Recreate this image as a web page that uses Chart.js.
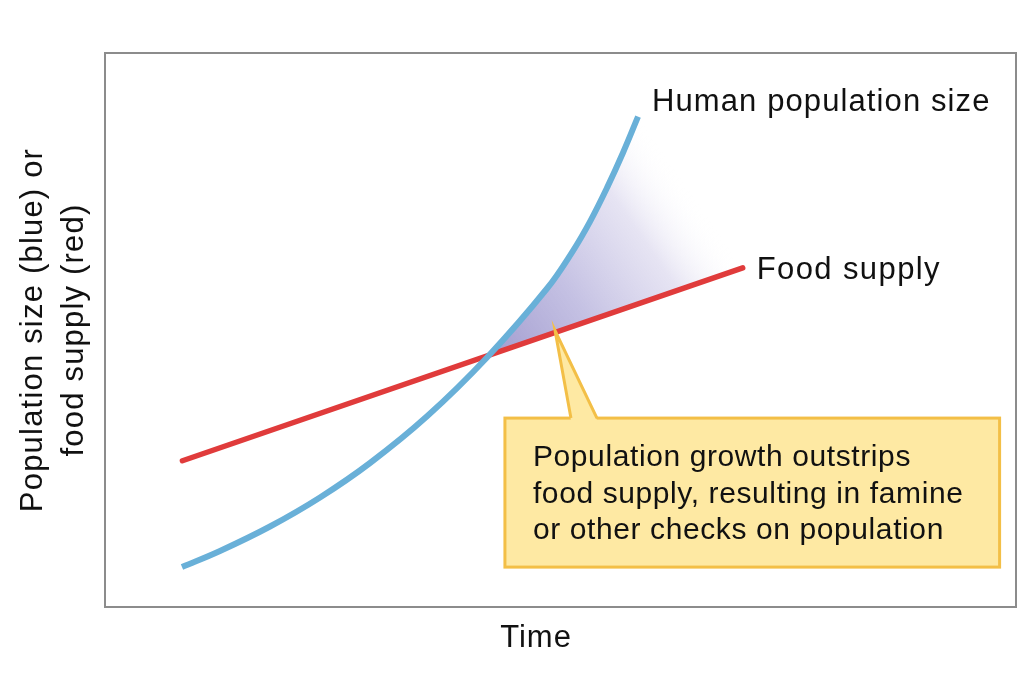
<!DOCTYPE html>
<html>
<head>
<meta charset="utf-8">
<script src="https://cdn.jsdelivr.net/npm/chart.js@4.4.1/dist/chart.umd.min.js"></script>
<style>
  html, body { margin: 0; padding: 0; background: #fff; }
  #wrap { width: 1032px; height: 690px; }
</style>
</head>
<body>
<div id="wrap"><canvas id="malthus"></canvas></div>
<script>
// values (arbitrary units, time 0-10, size 0-10)
const popTime  = [0.845, 1.262, 1.811, 2.360, 2.909, 3.535, 4.193, 4.852, 5.137, 5.324, 5.510, 5.686, 5.851];
const popSize  = [0.722, 1.011, 1.453, 1.977, 2.599, 3.442, 4.504, 5.749, 6.430, 6.957, 7.565, 8.200, 8.850];
const foodTime = [0.85, 7.0];
const foodSize = [2.64, 6.12];
const crossIndex = 6; // blue point where the curves meet

const labels = ['Human population size', 'Food supply'];
const yTitle = ['Population size (blue) or', 'food supply (red)'];
const xTitle = 'Time';
const noteLines = [
  'Population growth outstrips',
  'food supply, resulting in famine',
  'or other checks on population'
];
// note box, in data units: [x0, x1], [yTop, yBottom], pointer tip x
const noteX = [4.39, 9.82];
const noteY = [3.41, 0.72];
const noteTipX = 4.94;

const BLUE = '#69b0d8';
const RED = '#e03b3b';
const FONT = '"Liberation Sans", Arial, Helvetica, sans-serif';

function toPts(xs, ys) { return xs.map((x, i) => ({ x: x, y: ys[i] })); }

function drawText(ctx, txt, x, y, size, spacing, align) {
  ctx.save();
  ctx.font = size + 'px ' + FONT;
  ctx.fillStyle = '#111';
  ctx.textAlign = align || 'left';
  ctx.letterSpacing = spacing + 'px';
  ctx.fillText(txt, x, y);
  ctx.restore();
}

// shaded gap between the curves, drawn under the lines
const shadePlugin = {
  id: 'shade',
  beforeDatasetsDraw(chart) {
    const ctx = chart.ctx;
    const blue = chart.getDatasetMeta(0).data;
    const red = chart.getDatasetMeta(1).data;
    const p0 = blue[crossIndex];
    const pb = blue[blue.length - 1];
    const pr = red[red.length - 1];
    // gradient runs from the crossing toward the open edge
    const dx = pr.x - pb.x, dy = pr.y - pb.y;
    const len = Math.hypot(dx, dy);
    const ux = dx / len, uy = dy / len;
    const t = (p0.x - pb.x) * ux + (p0.y - pb.y) * uy;
    const fx = pb.x + t * ux, fy = pb.y + t * uy;
    const g = ctx.createLinearGradient(p0.x, p0.y, fx, fy);
    g.addColorStop(0, 'rgba(160,154,206,1)');
    g.addColorStop(0.4, 'rgba(190,186,224,0.9)');
    g.addColorStop(0.75, 'rgba(222,219,239,0.75)');
    g.addColorStop(1, 'rgba(255,255,255,0)');

    ctx.save();
    ctx.beginPath();
    ctx.moveTo(p0.x, p0.y);
    for (let i = crossIndex + 1; i < blue.length; i++) {
      const a = blue[i - 1], b = blue[i];
      ctx.bezierCurveTo(a.cp2x, a.cp2y, b.cp1x, b.cp1y, b.x, b.y);
    }
    ctx.lineTo(pr.x, pr.y);
    ctx.closePath();
    ctx.fillStyle = g;
    ctx.fill();
    ctx.restore();
  },
  afterDraw(chart) {
    const ctx = chart.ctx;
    const a = chart.chartArea;
    const xs = chart.scales.x, ys = chart.scales.y;

    // plot frame
    ctx.save();
    ctx.strokeStyle = '#8c8c8c';
    ctx.lineWidth = 2;
    ctx.strokeRect(a.left, a.top, a.right - a.left, a.bottom - a.top);
    ctx.restore();

    // line labels
    const blue = chart.getDatasetMeta(0).data;
    const red = chart.getDatasetMeta(1).data;
    const pb = blue[blue.length - 1], pr = red[red.length - 1];
    ctx.save();
    ctx.textBaseline = 'middle';
    drawText(ctx, labels[0], pb.x + 14, pb.y - 14, 31, 1.1);
    drawText(ctx, labels[1], pr.x + 14, pr.y + 3, 31, 1.4);
    ctx.restore();

    // axis titles
    ctx.save();
    ctx.textBaseline = 'middle';
    drawText(ctx, xTitle, 536, a.bottom + 31, 31, 1, 'center');
    ctx.translate(0, (a.top + a.bottom) / 2);
    ctx.rotate(-Math.PI / 2);
    drawText(ctx, yTitle[0], 0, 33, 31, 1.2, 'center');
    drawText(ctx, yTitle[1], 0, 74, 31, 1.2, 'center');
    ctx.restore();

    // callout box with pointer to the gap
    const bx0 = xs.getPixelForValue(noteX[0]), bx1 = xs.getPixelForValue(noteX[1]);
    const by0 = ys.getPixelForValue(noteY[0]), by1 = ys.getPixelForValue(noteY[1]);
    const f0 = foodTime[0], f1 = foodTime[1];
    const tipY = foodSize[0] + (foodSize[1] - foodSize[0]) * (noteTipX - f0) / (f1 - f0);
    const tx = xs.getPixelForValue(noteTipX), ty = ys.getPixelForValue(tipY) - 2;
    const baseL = bx0 + 66, baseR = bx0 + 92;

    ctx.save();
    ctx.lineWidth = 3;
    ctx.strokeStyle = '#f3bf47';
    ctx.fillStyle = '#fee9a3';
    ctx.fillRect(bx0, by0, bx1 - bx0, by1 - by0);
    ctx.strokeRect(bx0, by0, bx1 - bx0, by1 - by0);
    ctx.beginPath();
    ctx.moveTo(baseL, by0 + 2);
    ctx.lineTo(tx, ty);
    ctx.lineTo(baseR, by0 + 2);
    ctx.closePath();
    ctx.fill();
    ctx.beginPath();
    ctx.moveTo(baseL, by0);
    ctx.lineTo(tx, ty);
    ctx.lineTo(baseR, by0);
    ctx.lineJoin = 'miter';
    ctx.stroke();
    ctx.restore();

    ctx.save();
    ctx.textBaseline = 'alphabetic';
    noteLines.forEach((ln, i) => drawText(ctx, ln, bx0 + 28, by0 + 48 + i * 36.5, 30, 0.6));
    ctx.restore();
  }
};

new Chart(document.getElementById('malthus'), {
  type: 'scatter',
  data: {
    datasets: [
      {
        label: labels[0],
        data: toPts(popTime, popSize),
        showLine: true,
        borderColor: BLUE,
        borderWidth: 6,
        borderCapStyle: 'butt',
        tension: 0.4,
        pointRadius: 0
      },
      {
        label: labels[1],
        data: toPts(foodTime, foodSize),
        showLine: true,
        borderColor: RED,
        borderWidth: 5.5,
        borderCapStyle: 'round',
        pointRadius: 0
      }
    ]
  },
  options: {
    responsive: true,
    maintainAspectRatio: false,
    animation: false,
    layout: { padding: { left: 105, top: 53, right: 16, bottom: 83 } },
    plugins: {
      legend: { display: false },
      tooltip: { enabled: false }
    },
    scales: {
      x: { type: 'linear', min: 0, max: 10, display: false },
      y: { type: 'linear', min: 0, max: 10, display: false }
    }
  },
  plugins: [shadePlugin]
});
</script>
</body>
</html>
